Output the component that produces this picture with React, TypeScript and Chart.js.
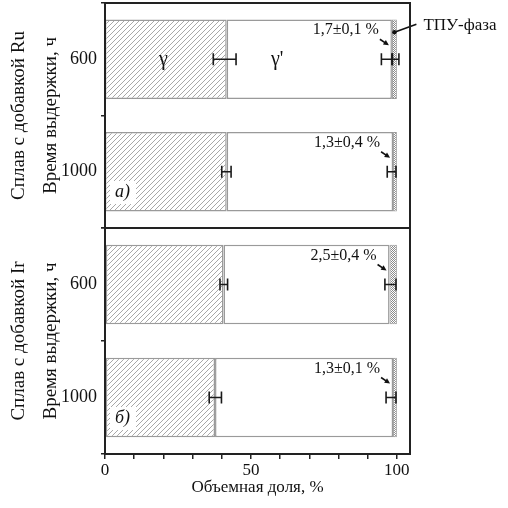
import React, { useEffect, useRef } from 'react';
import { Chart, registerables } from 'chart.js';

Chart.register(...registerables);

const FONT = "'Liberation Serif', 'Times New Roman', serif";

// categories (holding time, h)
const categories = ['600', '1000'];

// Ru-alloy panel (a): volume fractions, %
const ruGamma = [41.7, 41.7];
const ruGammaPrime = [56.6, 57.0];
const ruTpu = [1.7, 1.3];
// error bars per category: [centre, half-width]
const ruErrors = [
  [[41.0, 3.9], [96.6, 1.9], [99.5, 1.2]],
  [[41.6, 1.6], [98.2, 1.5]],
];
const ruTpuLabels = ['1,7±0,1 %', '1,3±0,4 %'];

// Ir-alloy panel (б)
const irGamma = [40.6, 37.7];
const irGammaPrime = [56.9, 61.0];
const irTpu = [2.5, 1.3];
const irErrors = [
  [[40.7, 1.3], [97.8, 1.9]],
  [[37.8, 2.1], [98.0, 1.7]],
];
const irTpuLabels = ['2,5±0,4 %', '1,3±0,1 %'];

// x axis
const xMin = 0;
const xMax = 104.5;
const xStep = 10;
const xLabelled = [0, 50, 100];

// phase label anchors (value on x axis, first category)
const phaseNames = ['γ', "γ'"];
const phaseAnchors = [20, 59];

type Spec = {
  gamma: number[];
  gammaPrime: number[];
  tpu: number[];
  errors: number[][][];
  tpuLabels: string[];
  title: string[];
  tag: string;
  showX: boolean;
  phaseLabels: boolean;
  tpuCallout: boolean;
};

function makeHatch(): CanvasPattern | string {
  const s = 5;
  const c = document.createElement('canvas');
  c.width = s;
  c.height = s;
  const g = c.getContext('2d');
  if (!g) return '#ddd';
  g.fillStyle = '#ffffff';
  g.fillRect(0, 0, s, s);
  g.strokeStyle = '#a8a8a8';
  g.lineWidth = 1;
  g.beginPath();
  g.moveTo(0, s);
  g.lineTo(s, 0);
  g.moveTo(-1, 1);
  g.lineTo(1, -1);
  g.moveTo(s - 1, s + 1);
  g.lineTo(s + 1, s - 1);
  g.stroke();
  return g.createPattern(c, 'repeat') || '#ddd';
}

function makeDots(): CanvasPattern | string {
  const c = document.createElement('canvas');
  c.width = 2;
  c.height = 2;
  const g = c.getContext('2d');
  if (!g) return '#bbb';
  g.fillStyle = '#ffffff';
  g.fillRect(0, 0, 2, 2);
  g.fillStyle = '#8a8a8a';
  g.fillRect(0, 0, 1, 1);
  g.fillRect(1, 1, 1, 1);
  return g.createPattern(c, 'repeat') || '#bbb';
}

function drawArrow(ctx: CanvasRenderingContext2D, x1: number, y1: number, x2: number, y2: number) {
  const a = Math.atan2(y2 - y1, x2 - x1);
  const L = 6;
  ctx.beginPath();
  ctx.moveTo(x1, y1);
  ctx.lineTo(x2 - Math.cos(a) * 3, y2 - Math.sin(a) * 3);
  ctx.stroke();
  ctx.beginPath();
  ctx.moveTo(x2, y2);
  ctx.lineTo(x2 - L * Math.cos(a - 0.45), y2 - L * Math.sin(a - 0.45));
  ctx.lineTo(x2 - L * Math.cos(a + 0.45), y2 - L * Math.sin(a + 0.45));
  ctx.closePath();
  ctx.fill();
}

function buildChart(canvas: HTMLCanvasElement, spec: Spec) {
  const hatch = makeHatch();
  const dots = makeDots();

  const decor = {
    id: 'decor',
    afterDatasetsDraw(chart: any) {
      const ctx: CanvasRenderingContext2D = chart.ctx;
      const xs = chart.scales.x;
      const ys = chart.scales.y;
      const area = chart.chartArea;
      ctx.save();

      // error bars
      ctx.strokeStyle = '#1a1a1a';
      ctx.lineWidth = 1.6;
      spec.errors.forEach((list, i) => {
        const y = ys.getPixelForValue(i);
        list.forEach(([c, h]) => {
          const x1 = xs.getPixelForValue(c - h);
          const x2 = xs.getPixelForValue(c + h);
          ctx.beginPath();
          ctx.moveTo(x1, y);
          ctx.lineTo(x2, y);
          ctx.moveTo(x1, y - 6);
          ctx.lineTo(x1, y + 6);
          ctx.moveTo(x2, y - 6);
          ctx.lineTo(x2, y + 6);
          ctx.stroke();
        });
      });

      // TPU annotations
      const meta = chart.getDatasetMeta(2);
      ctx.fillStyle = '#111';
      ctx.strokeStyle = '#111';
      ctx.lineWidth = 1.6;
      ctx.font = `16px ${FONT}`;
      ctx.textAlign = 'right';
      ctx.textBaseline = 'middle';
      meta.data.forEach((el: any, i: number) => {
        const p = el.getProps(['x', 'y', 'base'], true);
        const left = Math.min(p.x, p.base);
        ctx.fillText(spec.tpuLabels[i], left - 13, p.y - 29);
        drawArrow(ctx, left - 12, p.y - 20, left - 3, p.y - 14);
      });

      // TPU callout
      if (spec.tpuCallout && meta.data[0]) {
        const p = meta.data[0].getProps(['x', 'y', 'base'], true);
        const cx = (p.x + p.base) / 2;
        const dy = p.y - 27;
        ctx.beginPath();
        ctx.arc(cx, dy, 2.2, 0, Math.PI * 2);
        ctx.fill();
        ctx.beginPath();
        ctx.moveTo(cx, dy);
        ctx.lineTo(cx + 22, dy - 8);
        ctx.stroke();
        ctx.textAlign = 'left';
        ctx.font = `17px ${FONT}`;
        ctx.fillText('ТПУ-фаза', cx + 29, p.y - 34);
      }

      // phase labels
      if (spec.phaseLabels) {
        const y = ys.getPixelForValue(0);
        ctx.textAlign = 'center';
        ctx.font = `20px ${FONT}`;
        phaseNames.forEach((n, k) => {
          ctx.fillText(n, xs.getPixelForValue(phaseAnchors[k]), y);
        });
      }

      // panel tag
      ctx.fillStyle = '#ffffff';
      ctx.fillRect(area.left + 5, area.bottom - 47, 26, 23);
      ctx.fillStyle = '#111';
      ctx.textAlign = 'left';
      ctx.font = `italic 18px ${FONT}`;
      ctx.fillText(spec.tag, area.left + 10, area.bottom - 36);

      ctx.restore();
    },
    afterDraw(chart: any) {
      const ctx: CanvasRenderingContext2D = chart.ctx;
      const a = chart.chartArea;
      ctx.save();
      ctx.strokeStyle = '#222';
      ctx.lineWidth = 2;
      ctx.beginPath();
      ctx.moveTo(a.left, a.top);
      ctx.lineTo(a.right, a.top);
      ctx.lineTo(a.right, a.bottom);
      ctx.lineTo(a.left, a.bottom);
      ctx.closePath();
      ctx.stroke();
      ctx.restore();
    },
  };

  const barCommon = {
    borderColor: '#9a9a9a',
    borderWidth: 1.5,
    borderSkipped: false as const,
    barPercentage: 0.705,
    categoryPercentage: 1,
  };

  return new Chart(canvas, {
    type: 'bar',
    data: {
      labels: categories,
      datasets: [
        { label: 'γ', data: spec.gamma, backgroundColor: hatch as any, ...barCommon },
        { label: "γ'", data: spec.gammaPrime, backgroundColor: '#ffffff', ...barCommon },
        { label: 'ТПУ', data: spec.tpu, backgroundColor: dots as any, ...barCommon, borderWidth: 1 },
      ],
    },
    options: {
      indexAxis: 'y',
      animation: false,
      responsive: false,
      devicePixelRatio: window.devicePixelRatio || 1,
      layout: {
        padding: spec.showX
          ? { left: 0, right: 98, top: 0, bottom: 0 }
          : { left: 0, right: 98, top: 3, bottom: 1 },
      },
      plugins: { legend: { display: false }, tooltip: { enabled: false } },
      scales: {
        x: {
          type: 'linear',
          stacked: true,
          min: xMin,
          max: xMax,
          display: spec.showX,
          border: { display: false },
          grid: { drawOnChartArea: false, tickLength: 5, color: '#222', lineWidth: 1.5 },
          ticks: {
            stepSize: xStep,
            includeBounds: false,
            autoSkip: false,
            maxRotation: 0,
            padding: 1,
            color: '#111',
            font: { family: FONT, size: 17 },
            callback: (v: any) => (xLabelled.includes(Number(v)) ? String(v) : ''),
          },
          title: {
            display: true,
            text: 'Объемная доля, %',
            color: '#111',
            font: { family: FONT, size: 17 },
            padding: { top: 0, bottom: 10 },
          },
          afterFit: (s: any) => {
            s.height = spec.showX ? 54 : 0;
            s.paddingLeft = 0;
            s.paddingRight = 0;
          },
        },
        y: {
          type: 'category',
          stacked: true,
          offset: true,
          border: { display: false },
          grid: { offset: true, drawOnChartArea: false, tickLength: 4, color: '#222', lineWidth: 1.5 },
          ticks: { color: '#111', padding: 4, font: { family: FONT, size: 18 } },
          title: {
            display: true,
            text: spec.title,
            color: '#111',
            font: { family: FONT, size: 19, lineHeight: 1.68 },
            padding: { top: 3, bottom: 0 },
          },
          afterFit: (s: any) => {
            s.width = 105;
            s.paddingTop = 0;
            s.paddingBottom = 0;
          },
        },
      },
    },
    plugins: [decor],
  } as any);
}

export default function App() {
  const topRef = useRef<HTMLCanvasElement>(null);
  const botRef = useRef<HTMLCanvasElement>(null);

  useEffect(() => {
    if (!topRef.current || !botRef.current) return;
    const top = buildChart(topRef.current, {
      gamma: ruGamma,
      gammaPrime: ruGammaPrime,
      tpu: ruTpu,
      errors: ruErrors,
      tpuLabels: ruTpuLabels,
      title: ['Сплав с добавкой Ru', 'Время выдержки, ч'],
      tag: 'a)',
      showX: false,
      phaseLabels: true,
      tpuCallout: true,
    });
    const bot = buildChart(botRef.current, {
      gamma: irGamma,
      gammaPrime: irGammaPrime,
      tpu: irTpu,
      errors: irErrors,
      tpuLabels: irTpuLabels,
      title: ['Сплав с добавкой Ir', 'Время выдержки, ч'],
      tag: 'б)',
      showX: true,
      phaseLabels: false,
      tpuCallout: false,
    });
    return () => {
      top.destroy();
      bot.destroy();
    };
  }, []);

  return (
    <div style={{ position: 'absolute', left: 0, top: 0, width: 508, height: 508, background: '#fff' }}>
      <canvas
        ref={botRef}
        width={508}
        height={280}
        style={{ position: 'absolute', left: 0, top: 228, width: 508, height: 280 }}
      />
      <canvas
        ref={topRef}
        width={508}
        height={229}
        style={{ position: 'absolute', left: 0, top: 0, width: 508, height: 229 }}
      />
    </div>
  );
}
